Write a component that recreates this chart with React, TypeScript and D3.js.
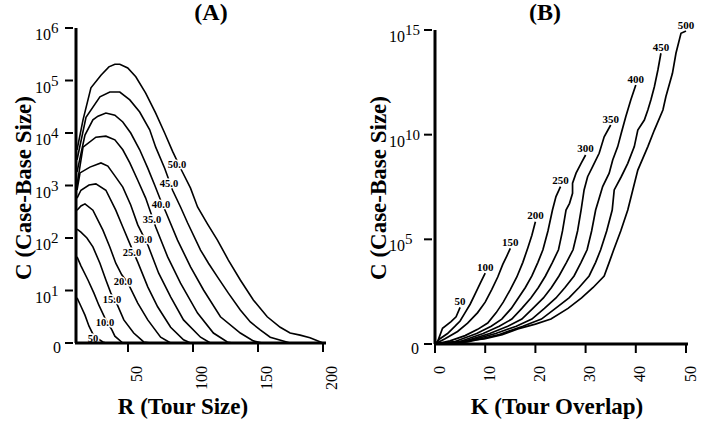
import React from "react";
import * as d3 from "d3";

// every point is [x value, log10 C]
type Pt = [number, number];

const serif = "'Liberation Serif', 'Times New Roman', Times, serif";

// ---- (A) case-base size against tour size R, one curve per K ----
const kLabelsA = ["50", "10.0", "15.0", "20.0", "25.0", "30.0", "35.0", "40.0", "45.0", "50.0"];
const labelRA = [22.3, 31.5, 36.9, 45.4, 52.3, 60.8, 67.7, 74.6, 80.8, 86.9];

const a5: Pt[] = [[10.8, 0.86], [13.8, 0.7], [16.9, 0.53], [20, 0.32], [23.8, 0.13], [30.7, 0.02], [33, 0]];
const a10: Pt[] = [[10.8, 1.64], [13.8, 1.47], [19.2, 1.2], [23.8, 0.95], [27.6, 0.72], [32.2, 0.48], [37.6, 0.25], [39.9, 0.13], [46, 0]];
const a15: Pt[] = [[10.8, 2.17], [13.8, 2.11], [18.4, 2.0], [23, 1.83], [28.4, 1.52], [33, 1.2], [36.8, 0.95], [41.4, 0.75], [46.8, 0.44], [54.4, 0.19], [62.1, 0.02], [67.5, 0]];
const a20: Pt[] = [[10.8, 2.53], [13.8, 2.61], [16.9, 2.65], [23, 2.53], [30.7, 2.15], [36, 1.83], [40.6, 1.52], [45.2, 1.3], [49.8, 1.15], [57.5, 0.76], [65.2, 0.44], [75.1, 0.11], [82.8, 0]];
const a25: Pt[] = [[10.8, 2.76], [13.8, 2.91], [20, 3.01], [25.3, 3.03], [33, 2.91], [40.6, 2.53], [46, 2.21], [52.1, 1.85], [57.5, 1.54], [65.2, 1.07], [72.8, 0.69], [82.8, 0.3], [92.7, 0.06], [98.1, 0]];
const a30: Pt[] = [[10.8, 2.91], [13.1, 3.24], [20.7, 3.35], [29.2, 3.43], [34.5, 3.37], [40.6, 3.16], [46, 2.97], [52.1, 2.63], [57.5, 2.25], [65.2, 1.87], [73.6, 1.33], [82.8, 0.88], [92.7, 0.44], [105.8, 0.11], [113.4, 0]];
const a35: Pt[] = [[10.8, 3.01], [15.4, 3.73], [25.3, 3.92], [33, 3.94], [39.9, 3.87], [46, 3.68], [51.4, 3.43], [57.5, 3.1], [63.6, 2.76], [71.3, 2.21], [80.5, 1.64], [90.4, 1.14], [103.5, 0.57], [115.7, 0.19], [126.4, 0.02], [130.3, 0]];
const a40: Pt[] = [[10.8, 3.26], [16.9, 3.96], [23, 4.25], [26.9, 4.32], [33, 4.38], [39.9, 4.34], [46, 4.21], [52.1, 4.0], [59, 3.68], [65.2, 3.33], [70.5, 3.01], [75.1, 2.72], [79, 2.5], [88.1, 1.96], [98.1, 1.45], [108.1, 1.01], [121.1, 0.5], [136.4, 0.19], [146.4, 0.04], [153.3, 0]];
const a45: Pt[] = [[10.8, 3.49], [17.7, 4.3], [28.4, 4.69], [36, 4.78], [43.7, 4.78], [51.4, 4.63], [59, 4.4], [66.7, 4.06], [71.3, 3.73], [78.2, 3.33], [84.3, 2.91], [90.4, 2.59], [95.8, 2.29], [105.8, 1.77], [111.9, 1.52], [118.8, 1.26], [127.2, 0.95], [136.4, 0.63], [144.1, 0.4], [151.7, 0.25], [159.4, 0.11], [174.7, 0]];
const a50: Pt[] = [[10.8, 3.68], [15.4, 4.25], [21.5, 4.86], [29.2, 5.1], [35.3, 5.26], [39.9, 5.31], [43.7, 5.31], [49.8, 5.24], [56, 5.07], [63.6, 4.76], [71.3, 4.38], [78.2, 4.0], [84.3, 3.65], [91, 3.3], [98.1, 2.95], [103.5, 2.59], [111.1, 2.27], [118.8, 1.96], [127.2, 1.58], [136.4, 1.2], [146.4, 0.82], [157.1, 0.5], [167.1, 0.3], [174.7, 0.19], [182.4, 0.15], [190, 0.1], [200, 0]];
const curvesA = [a5, a10, a15, a20, a25, a30, a35, a40, a45, a50];

const xTicksA = [50, 100, 150, 200];
const yExpA = [0, 1, 2, 3, 4, 5, 6];

// ---- (B) case-base size against tour overlap K, one curve per R ----
const rLabelsB = ["50", "100", "150", "200", "250", "300", "350", "400", "450", "500"];

const b50: Pt[] = [[0, 0], [0.5, 0.1], [1.5, 0.75], [3.2, 1.07], [4.2, 1.3], [5, 1.75]];
const b100: Pt[] = [[0, 0], [1, 0.25], [2.5, 0.5], [4, 0.85], [5, 1.1], [6, 1.5], [7, 1.9], [8, 2.4], [9, 2.9], [10, 3.38]];
const b150: Pt[] = [[0, 0], [2, 0.25], [4.5, 0.6], [6.5, 1.0], [8.5, 1.5], [10, 2.0], [11.3, 2.6], [12.5, 3.2], [13.5, 3.8], [14.3, 4.2], [15, 4.57]];
const b200: Pt[] = [[0, 0], [3, 0.15], [6, 0.4], [8.5, 0.7], [10.5, 1.0], [12.2, 1.5], [13.6, 2.0], [15, 2.6], [16.3, 3.2], [17.5, 3.9], [18.5, 4.6], [19.3, 5.2], [20, 5.84]];
const b250: Pt[] = [[0, 0], [4, 0.12], [8.3, 0.5], [11.2, 0.85], [13.3, 1.19], [15.2, 1.7], [16.6, 2.2], [18, 2.7], [19.3, 3.25], [20.5, 3.9], [21.5, 4.5], [22.5, 5.4], [23.4, 6.4], [24.1, 7.04], [25, 7.52]];
const b300: Pt[] = [[0, 0], [5, 0.12], [9.6, 0.5], [12.8, 0.85], [15.3, 1.19], [17.3, 1.7], [19.1, 2.2], [20.6, 2.7], [22, 3.25], [23.4, 3.9], [24.6, 4.5], [25.4, 5.4], [26.1, 6.4], [26.8, 6.72], [27.4, 7.2], [27.4, 7.68], [28.1, 8.16], [29.1, 8.63], [30, 9.03]];
const b350: Pt[] = [[0, 0], [5.5, 0.1], [10.9, 0.5], [14.5, 0.85], [17.3, 1.19], [19.5, 1.7], [21.6, 2.2], [23.2, 2.7], [24.7, 3.25], [26.2, 3.9], [27.5, 4.5], [28.4, 5.4], [29.1, 6.4], [29.7, 7.36], [30.4, 7.99], [31.4, 8.47], [32.7, 9.11], [33.7, 9.9], [35, 10.46]];
const b400: Pt[] = [[0, 0], [6, 0.1], [12.1, 0.5], [16.2, 0.85], [19.3, 1.19], [21.8, 1.7], [24.1, 2.2], [25.9, 2.7], [27.7, 3.25], [29.1, 3.9], [30.3, 4.5], [31.2, 5.4], [32, 6.4], [32.6, 6.88], [33.4, 7.52], [34.7, 8.16], [35.4, 8.79], [36.4, 9.43], [37.1, 10.07], [38, 10.86], [39, 11.66], [40, 12.37]];
const b450: Pt[] = [[0, 0], [6.5, 0.1], [12.8, 0.45], [17.5, 0.85], [21.2, 1.19], [24, 1.7], [26.7, 2.2], [28.7, 2.7], [30.7, 3.25], [32, 3.9], [33, 4.5], [34.2, 5.4], [35.3, 6.4], [35.7, 7.36], [37.1, 7.99], [38.4, 8.63], [39.7, 9.43], [40.4, 10.22], [41.7, 10.7], [42.4, 11.18], [43, 11.66], [43.7, 12.29], [44.4, 13.09], [45, 13.89]];
const b500: Pt[] = [[0, 0], [9.8, 0.24], [13.4, 0.45], [16.5, 0.72], [20, 0.95], [23.1, 1.19], [26.5, 1.7], [29.2, 2.2], [31.5, 2.7], [33.7, 3.25], [34.7, 3.9], [35.6, 4.5], [37, 5.4], [38.4, 6.4], [39.4, 7.36], [40.4, 8.31], [42.4, 9.43], [43.7, 10.22], [45.4, 11.18], [46, 11.82], [47.3, 12.93], [48, 13.89], [49, 14.84], [50, 14.95]];
const curvesB = [b50, b100, b150, b200, b250, b300, b350, b400, b450, b500];

const xTicksB = [0, 10, 20, 30, 40, 50];
const yExpB = [0, 5, 10, 15];

// scales
const xA = d3.scaleLinear().domain([10, 200]).range([76, 323]);
const yA = d3.scaleLog().domain([1, 1e6]).range([343, 28]);
const xB = d3.scaleLinear().domain([0, 50]).range([435, 686]);
const yB = d3.scaleLog().domain([1, 1e15]).range([344, 30]);

// log10 C on a curve at a given x, by linear interpolation
function logAt(curve: Pt[], x: number): number {
  for (let i = 1; i < curve.length; i++) {
    const [x0, l0] = curve[i - 1];
    const [x1, l1] = curve[i];
    if (x >= x0 && x <= x1) return l0 + ((x - x0) / (x1 - x0)) * (l1 - l0);
  }
  return curve[curve.length - 1][1];
}

function YAxis({ x, y, exps, labelLeft, zeroRight }: any) {
  const top = y(10 ** exps[exps.length - 1]);
  return (
    <g>
      <line x1={x} x2={x} y1={top} y2={y(1)} stroke="#000" strokeWidth={3} />
      {exps.map((e: number) => {
        const ty = y(10 ** e);
        return (
          <g key={e}>
            <line x1={x - 11} x2={x - 3} y1={ty} y2={ty} stroke="#000" strokeWidth={2} />
            {e === 0 ? (
              <text x={zeroRight} y={ty + 10} textAnchor="end" fontSize={16}>0</text>
            ) : (
              <text x={labelLeft} y={ty + 12} fontSize={16}>
                10<tspan dy={-7} fontSize={15}>{e}</tspan>
              </text>
            )}
          </g>
        );
      })}
    </g>
  );
}

function XAxis({ x, y0, x0, x1, ticks, shift }: any) {
  return (
    <g>
      <line x1={x0} x2={x1} y1={y0} y2={y0} stroke="#000" strokeWidth={3} />
      {ticks.map((t: number) => {
        const tx = x(t);
        return (
          <g key={t}>
            <line x1={tx} x2={tx} y1={y0 + 1} y2={y0 + 9} stroke="#000" strokeWidth={2} />
            <text transform={`translate(${tx + shift},366) rotate(-90)`} textAnchor="end" fontSize={16}>
              {t}
            </text>
          </g>
        );
      })}
    </g>
  );
}

export default function App() {
  const lineA = d3
    .line<Pt>()
    .x((d) => xA(d[0]))
    .y((d) => yA(10 ** d[1]));
  const lineB = d3
    .line<Pt>()
    .x((d) => xB(d[0]))
    .y((d) => yB(10 ** d[1]));

  return (
    <svg
      width={702}
      height={432}
      style={{ position: "absolute", left: 0, top: 0, background: "#fff" }}
      fontFamily={serif}
      fill="#000"
    >
      {/* panel A */}
      <text x={211} y={20} textAnchor="middle" fontSize={24} fontWeight="bold">(A)</text>
      {curvesA.map((c, i) => (
        <path key={i} d={lineA(c) || ""} fill="none" stroke="#000" strokeWidth={1.6} />
      ))}
      {curvesA.map((c, i) => {
        const r = labelRA[i];
        return (
          <text
            key={i}
            x={xA(r) + 1}
            y={yA(10 ** logAt(c, r)) + 6}
            dy="0.35em"
            textAnchor="middle"
            fontSize={10.5}
            fontWeight="bold"
            stroke="#fff"
            strokeWidth={3}
            paintOrder="stroke"
          >
            {kLabelsA[i]}
          </text>
        );
      })}
      <YAxis x={76} y={yA} exps={yExpA} labelLeft={35} zeroRight={61} />
      <XAxis x={xA} y0={343} x0={75} x1={326} ticks={xTicksA} shift={13.5} />
      <text transform="translate(31,188) rotate(-90)" textAnchor="middle" fontSize={23} fontWeight="bold">
        C (Case-Base Size)
      </text>
      <text x={183} y={414} textAnchor="middle" fontSize={23} fontWeight="bold">R (Tour Size)</text>

      {/* panel B */}
      <text x={545} y={20} textAnchor="middle" fontSize={24} fontWeight="bold">(B)</text>
      {curvesB.map((c, i) => (
        <path key={i} d={lineB(c) || ""} fill="none" stroke="#000" strokeWidth={1.7} />
      ))}
      {curvesB.map((c, i) => {
        const end = c[c.length - 1];
        return (
          <text
            key={i}
            x={xB(end[0])}
            y={yB(10 ** end[1]) - 2.5}
            textAnchor="middle"
            fontSize={11}
            fontWeight="bold"
            stroke="#fff"
            strokeWidth={2.5}
            paintOrder="stroke"
          >
            {rLabelsB[i]}
          </text>
        );
      })}
      <YAxis x={435} y={yB} exps={yExpB} labelLeft={389} zeroRight={419} />
      <XAxis x={xB} y0={344} x0={434} x1={688} ticks={xTicksB} shift={9.5} />
      <text transform="translate(386,188) rotate(-90)" textAnchor="middle" fontSize={23} fontWeight="bold">
        C (Case-Base Size)
      </text>
      <text x={557} y={414} textAnchor="middle" fontSize={23} fontWeight="bold">K (Tour Overlap)</text>
    </svg>
  );
}
